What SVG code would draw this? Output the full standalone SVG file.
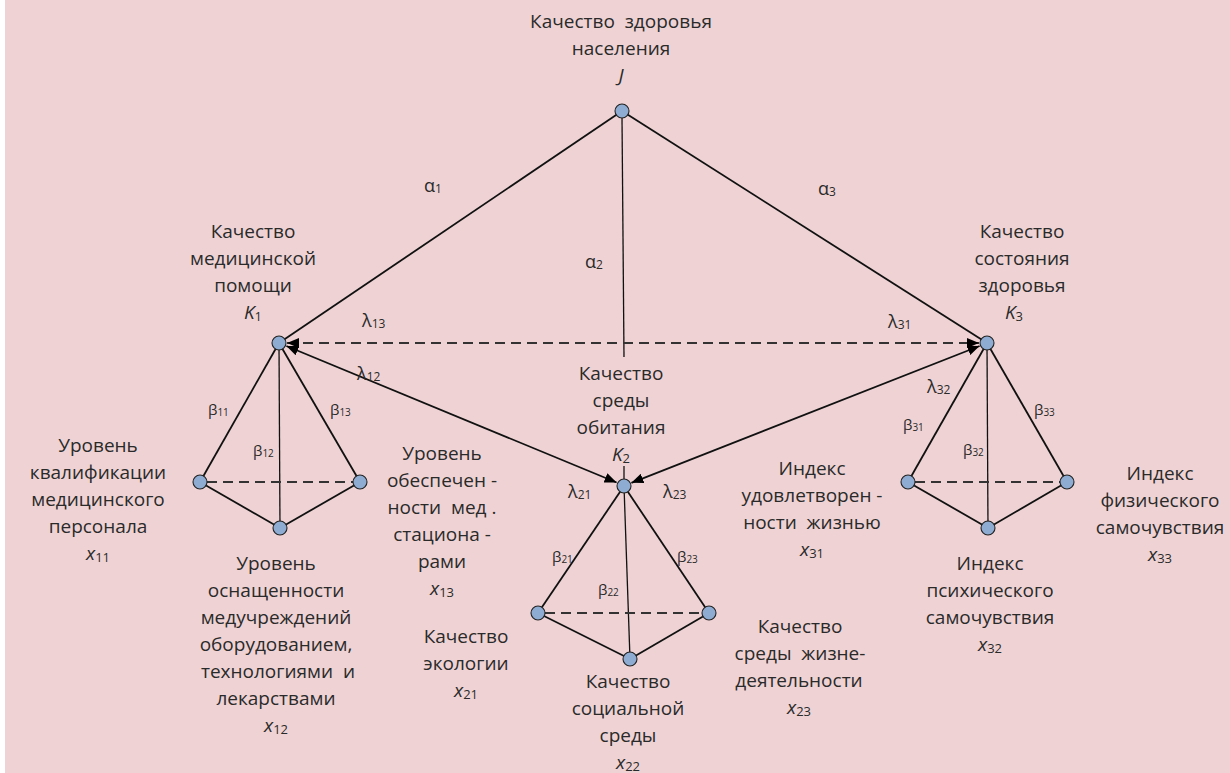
<svg xmlns="http://www.w3.org/2000/svg" width="1230" height="773" viewBox="0 0 1230 773">
<defs>
<style>
.t{font-family:"Open Sans","Noto Sans","Liberation Sans",sans-serif;font-size:19px;fill:#2a2a2a;text-anchor:middle}
.v{font-style:italic}
.s{font-style:normal;font-size:13px}
.g{font-family:"Open Sans","Noto Sans","Liberation Sans",sans-serif;font-size:18px;fill:#2a2a2a}
.gs{font-size:12px}
.b{font-family:"Open Sans","Noto Sans","Liberation Sans",sans-serif;font-size:15px;fill:#2a2a2a}
.bs{font-size:10px}
.ln{stroke:#111;stroke-width:1.8;fill:none}
.thin{stroke:#111;stroke-width:1.3;fill:none}
.dash{stroke:#333;stroke-width:1.8;stroke-dasharray:10 6;fill:none}
.nd{fill:#8eabd2;stroke:#222;stroke-width:1.1}
</style>
<marker id="ah" viewBox="0 0 12 10" refX="12" refY="5" markerWidth="12" markerHeight="10" markerUnits="userSpaceOnUse" orient="auto-start-reverse">
<path d="M0,0 L12,5 L0,10 Z" fill="#000"/>
</marker>
</defs>
<rect x="0" y="0" width="1230" height="773" fill="#ffffff"/>
<rect x="5" y="0" width="1225" height="773" fill="#efd3d4"/>

<g id="connectors">
<line class="ln" x1="622" y1="111" x2="279" y2="343"/>
<line class="ln" x1="622" y1="111" x2="987" y2="343"/>
<line class="thin" x1="622" y1="118" x2="624" y2="357"/>
<line class="thin" x1="624" y1="466" x2="624" y2="479"/>
<line class="dash" x1="287" y1="343" x2="979" y2="343" marker-start="url(#ah)" marker-end="url(#ah)"/>
<line class="ln" x1="286.4" y1="346" x2="616.6" y2="482.5" marker-start="url(#ah)" marker-end="url(#ah)"/>
<line class="ln" x1="979.6" y1="346" x2="631.4" y2="482.8" marker-start="url(#ah)" marker-end="url(#ah)"/>
<!-- K1 pyramid -->
<line class="ln" x1="279" y1="343" x2="200" y2="482"/>
<line class="thin" x1="279" y1="343" x2="280" y2="528"/>
<line class="ln" x1="279" y1="343" x2="360" y2="482"/>
<line class="ln" x1="200" y1="482" x2="280" y2="528"/>
<line class="ln" x1="360" y1="482" x2="280" y2="528"/>
<line class="dash" x1="207" y1="482" x2="353" y2="482"/>
<!-- K2 pyramid -->
<line class="ln" x1="624" y1="486" x2="538" y2="613"/>
<line class="thin" x1="624" y1="486" x2="630" y2="659"/>
<line class="ln" x1="624" y1="486" x2="709" y2="613"/>
<line class="ln" x1="538" y1="613" x2="630" y2="659"/>
<line class="ln" x1="709" y1="613" x2="630" y2="659"/>
<line class="dash" x1="545" y1="613" x2="702" y2="613"/>
<!-- K3 pyramid -->
<line class="ln" x1="987" y1="343" x2="908" y2="482"/>
<line class="thin" x1="987" y1="343" x2="988" y2="528"/>
<line class="ln" x1="987" y1="343" x2="1067" y2="482"/>
<line class="ln" x1="908" y1="482" x2="988" y2="528"/>
<line class="ln" x1="1067" y1="482" x2="988" y2="528"/>
<line class="dash" x1="915" y1="482" x2="1060" y2="482"/>
</g>

<g id="edge-labels">
<text class="g" x="424" y="192">α<tspan class="gs" dy="1">1</tspan></text>
<text class="g" x="585" y="268">α<tspan class="gs" dy="1">2</tspan></text>
<text class="g" x="818" y="195">α<tspan class="gs" dy="1">3</tspan></text>
<text class="g" x="362" y="327">λ<tspan class="gs" dy="1">13</tspan></text>
<text class="g" x="888" y="328">λ<tspan class="gs" dy="1">31</tspan></text>
<text class="g" x="357" y="380">λ<tspan class="gs" dy="1">12</tspan></text>
<text class="g" x="927" y="393">λ<tspan class="gs" dy="1">32</tspan></text>
<text class="g" x="568" y="498">λ<tspan class="gs" dy="1">21</tspan></text>
<text class="g" x="663" y="498">λ<tspan class="gs" dy="1">23</tspan></text>
<text class="b" x="208" y="415">β<tspan class="bs" dy="1">11</tspan></text>
<text class="b" x="253" y="456">β<tspan class="bs" dy="1">12</tspan></text>
<text class="b" x="330" y="415">β<tspan class="bs" dy="1">13</tspan></text>
<text class="b" x="552" y="562">β<tspan class="bs" dy="1">21</tspan></text>
<text class="b" x="598" y="595">β<tspan class="bs" dy="1">22</tspan></text>
<text class="b" x="677" y="562">β<tspan class="bs" dy="1">23</tspan></text>
<text class="b" x="903" y="430">β<tspan class="bs" dy="1">31</tspan></text>
<text class="b" x="963" y="455">β<tspan class="bs" dy="1">32</tspan></text>
<text class="b" x="1034" y="415">β<tspan class="bs" dy="1">33</tspan></text>
</g>

<g id="node-J">
<circle class="nd" cx="622" cy="111" r="7"/>
<text class="t" x="621" y="28" xml:space="preserve">Качество  здоровья</text>
<text class="t" x="621" y="55">населения</text>
<text class="t v" x="621" y="82">J</text>
</g>

<g id="node-K1">
<circle class="nd" cx="279" cy="343" r="7"/>
<text class="t" x="253" y="238">Качество</text>
<text class="t" x="253" y="265">медицинской</text>
<text class="t" x="253" y="292">помощи</text>
<text class="t v" x="253" y="319">K<tspan class="s" dy="2">1</tspan></text>
</g>

<g id="node-K2">
<circle class="nd" cx="624" cy="486" r="7"/>
<text class="t" x="621" y="380">Качество</text>
<text class="t" x="621" y="407">среды</text>
<text class="t" x="621" y="434">обитания</text>
<text class="t v" x="621" y="461">K<tspan class="s" dy="2">2</tspan></text>
</g>

<g id="node-K3">
<circle class="nd" cx="987" cy="343" r="7"/>
<text class="t" x="1022" y="238">Качество</text>
<text class="t" x="1022" y="265">состояния</text>
<text class="t" x="1022" y="292">здоровья</text>
<text class="t v" x="1014" y="319">K<tspan class="s" dy="2">3</tspan></text>
</g>

<g id="node-x11">
<circle class="nd" cx="200" cy="482" r="7"/>
<text class="t" x="98" y="452">Уровень</text>
<text class="t" x="98" y="479">квалификации</text>
<text class="t" x="98" y="506">медицинского</text>
<text class="t" x="98" y="533">персонала</text>
<text class="t v" x="98" y="560">x<tspan class="s" dy="2">11</tspan></text>
</g>

<g id="node-x12">
<circle class="nd" cx="280" cy="528" r="7"/>
<text class="t" x="276" y="570">Уровень</text>
<text class="t" x="276" y="597">оснащенности</text>
<text class="t" x="276" y="624">медучреждений</text>
<text class="t" x="276" y="651">оборудованием,</text>
<text class="t" x="278" y="678" xml:space="preserve">технологиями  и</text>
<text class="t" x="276" y="705">лекарствами</text>
<text class="t v" x="276" y="732">x<tspan class="s" dy="2">12</tspan></text>
</g>

<g id="node-x13">
<circle class="nd" cx="360" cy="482" r="7"/>
<text class="t" x="442" y="460">Уровень</text>
<text class="t" x="442" y="487">обеспечен -</text>
<text class="t" x="442" y="514" xml:space="preserve">ности  мед .</text>
<text class="t" x="442" y="541">стациона -</text>
<text class="t" x="442" y="568">рами</text>
<text class="t v" x="442" y="595">x<tspan class="s" dy="2">13</tspan></text>
</g>

<g id="node-x21">
<circle class="nd" cx="538" cy="613" r="7"/>
<text class="t" x="466" y="643">Качество</text>
<text class="t" x="466" y="670">экологии</text>
<text class="t v" x="466" y="697">x<tspan class="s" dy="2">21</tspan></text>
</g>

<g id="node-x22">
<circle class="nd" cx="630" cy="659" r="7"/>
<text class="t" x="628" y="688">Качество</text>
<text class="t" x="628" y="715">социальной</text>
<text class="t" x="628" y="742">среды</text>
<text class="t v" x="628" y="769">x<tspan class="s" dy="2">22</tspan></text>
</g>

<g id="node-x23">
<circle class="nd" cx="709" cy="613" r="7"/>
<text class="t" x="800" y="633">Качество</text>
<text class="t" x="800" y="660" xml:space="preserve">среды  жизне-</text>
<text class="t" x="799" y="687">деятельности</text>
<text class="t v" x="799" y="714">x<tspan class="s" dy="2">23</tspan></text>
</g>

<g id="node-x31">
<circle class="nd" cx="908" cy="482" r="7"/>
<text class="t" x="812" y="475">Индекс</text>
<text class="t" x="812" y="502">удовлетворен -</text>
<text class="t" x="812" y="529" xml:space="preserve">ности  жизнью</text>
<text class="t v" x="812" y="556">x<tspan class="s" dy="2">31</tspan></text>
</g>

<g id="node-x32">
<circle class="nd" cx="988" cy="528" r="7"/>
<text class="t" x="990" y="570">Индекс</text>
<text class="t" x="990" y="597">психического</text>
<text class="t" x="990" y="624">самочувствия</text>
<text class="t v" x="990" y="651">x<tspan class="s" dy="2">32</tspan></text>
</g>

<g id="node-x33">
<circle class="nd" cx="1067" cy="482" r="7"/>
<text class="t" x="1160" y="480">Индекс</text>
<text class="t" x="1160" y="507">физического</text>
<text class="t" x="1160" y="534">самочувствия</text>
<text class="t v" x="1160" y="561">x<tspan class="s" dy="2">33</tspan></text>
</g>
</svg>
